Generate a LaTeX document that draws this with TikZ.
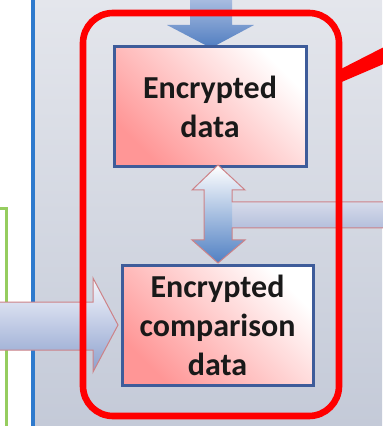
\documentclass[tikz,border=0pt]{standalone}
\usepackage{fontspec}
\setmainfont{Carlito}
\definecolor{boxedge}{RGB}{62,92,154}
\definecolor{boxpink}{RGB}{255,150,150}
\definecolor{boxtext}{RGB}{25,25,25}
\definecolor{arrowedge}{RGB}{205,130,135}
\definecolor{paneltop}{RGB}{228,230,236}
\definecolor{panelbottom}{RGB}{196,202,216}
\definecolor{panelgreen}{RGB}{150,205,95}
\definecolor{panelblue}{RGB}{46,122,205}
\definecolor{downtop}{RGB}{170,190,225}
\definecolor{downbottom}{RGB}{80,125,192}
\definecolor{lefttop}{RGB}{245,246,252}
\definecolor{leftbottom}{RGB}{140,160,205}
\definecolor{branchtop}{RGB}{214,219,234}
\definecolor{branchmid}{RGB}{232,235,243}
\definecolor{branchbottom}{RGB}{180,191,220}
\definecolor{swapbottom}{RGB}{80,128,195}
\begin{document}
\begin{tikzpicture}[x=0.5pt,y=-0.5pt,
  databox/.style={draw=boxedge, line width=1.5pt,
    shade, top color=white, bottom color=boxpink,
    shading angle=-45, inner sep=0pt, align=center,
    text=boxtext, font=\fontsize{16}{19.5}\selectfont\bfseries},
  flowarrow/.style={draw=arrowedge, line width=0.5pt},
  groupframe/.style={draw=red, line width=3.3pt, rounded corners=15pt}
]
\useasboundingbox (0,0) rectangle (382,426);
\fill[white] (0,0) rectangle (382,426);

% panel background
\shade[top color=paneltop, bottom color=panelbottom] (34,0) rectangle (382,426);

% neighbouring panel borders
\coordinate (g1) at (-2,209);
\coordinate (g2) at (6,209);
\coordinate (g3) at (6,430);
\draw[panelgreen, line width=1.5pt] (g1) -- (g2) -- (g3);
\coordinate (b1) at (33,-2);
\coordinate (b2) at (33,430);
\draw[panelblue, line width=2pt] (b1) -- (b2);

% incoming arrow from above
\shade[top color=downtop, bottom color=downbottom]
  (190,-2) -- (232,-2) -- (232,25) -- (254,25) -- (211,48) -- (167,25) -- (190,25) -- cycle;

% incoming arrow from the left
\shade[flowarrow, top color=lefttop, bottom color=leftbottom]
  (-5,302) -- (93,302) -- (93,278) -- (118,325) -- (93,372) -- (93,350) -- (-5,350) -- cycle;

% boxes
\node[databox, minimum width=96pt, minimum height=60pt] (enc) at (210,107)
  {Encrypted\\data};
\node[databox, minimum width=95.5pt, minimum height=60pt] (cmp) at (217.5,325)
  {Encrypted\\comparison\\data};

% two-way exchange between the boxes, joined by a branch from the right
\shade[top color=branchtop, middle color=branchmid, bottom color=branchbottom]
  (232,202) rectangle (386,228);
\shade[top color=white, bottom color=swapbottom]
  (218,165) -- (245,190) -- (232,190) -- (232,240) -- (245,240) -- (218,263)
  -- (192,240) -- (204,240) -- (204,190) -- (192,190) -- cycle;
\coordinate (h1) at (386,202);
\coordinate (h2) at (386,228);
\draw[flowarrow, line join=miter]
  (h1) -- (232,202) -- (232,190) -- (245,190) -- (218,165) -- (192,190)
  -- (204,190) -- (204,240) -- (192,240) -- (218,263) -- (245,240)
  -- (232,240) -- (232,228) -- (h2);

% highlighted group with its callout pointer
\draw[groupframe] (83,13) rectangle (339,416);
\fill[red] (337,71) -- (386,46) -- (386,63) -- (337,84) -- cycle;
\end{tikzpicture}
\end{document}
